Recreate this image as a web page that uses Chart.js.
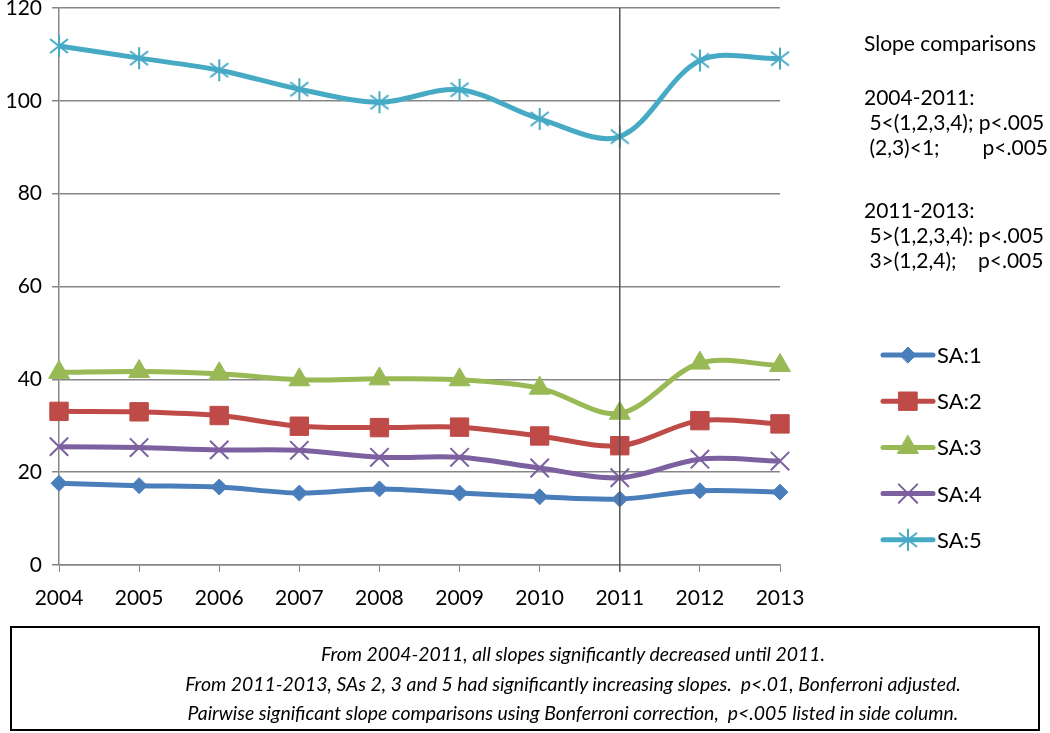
<!DOCTYPE html>
<html>
<head>
<meta charset="utf-8">
<script src="https://cdn.jsdelivr.net/npm/chart.js@4.4.0/dist/chart.umd.min.js"></script>
<style>
  body { margin: 0; background: #fff; overflow: hidden; }
  #wrap { position: relative; width: 1050px; height: 733px; overflow: hidden; }
  #chart { position: absolute; left: 0; top: -7px; }
  .note { position: absolute; left: 864px; font: 21px Lato, sans-serif; line-height: 25px; white-space: pre; color: #000; }
  #box { position: absolute; left: 10px; top: 626px; width: 1030px; height: 105px; border: 2px solid #000;
         font: italic 19.4px Lato, sans-serif; text-align: center; line-height: 29.5px; padding: 11px 0 0 96px; box-sizing: border-box; color: #000; }
</style>
</head>
<body>
<div id="wrap">
  <canvas id="chart" width="1050" height="740"></canvas>
  <div class="note" style="top:30px">Slope comparisons</div>
  <div class="note" style="top:84px">2004-2011:
 5&lt;(1,2,3,4); p&lt;.005
 (2,3)&lt;1;        p&lt;.005</div>
  <div class="note" style="top:197px">2011-2013:
 5&gt;(1,2,3,4): p&lt;.005
 3&gt;(1,2,4);    p&lt;.005</div>
  <div id="box">From 2004-2011, all slopes significantly decreased until 2011.<br>From 2011-2013, SAs 2, 3 and 5 had significantly increasing slopes.&nbsp; p&lt;.01, Bonferroni adjusted.<br>Pairwise significant slope comparisons using Bonferroni correction,&nbsp; p&lt;.005 listed in side column.</div>
</div>
<script>
const years = ['2004', '2005', '2006', '2007', '2008', '2009', '2010', '2011', '2012', '2013'];
const sa1 = [17.6, 17.1, 16.8, 15.5, 16.4, 15.5, 14.7, 14.2, 16.0, 15.7];
const sa2 = [33.1, 33.0, 32.2, 29.9, 29.6, 29.7, 27.8, 25.7, 31.1, 30.4];
const sa3 = [41.5, 41.7, 41.2, 39.9, 40.1, 39.9, 38.1, 32.7, 43.5, 43.0];
const sa4 = [25.5, 25.3, 24.8, 24.7, 23.2, 23.2, 20.9, 18.8, 22.8, 22.4];
const sa5 = [111.8, 109.2, 106.6, 102.5, 99.7, 102.4, 96.1, 92.3, 108.7, 109.1];
const markYear = '2011';

// excel style asterisk marker
function asterisk(color) {
    let c = document.createElement('canvas');
    c.width = 24; c.height = 24;
    let g = c.getContext('2d');
    g.strokeStyle = color;
    g.lineWidth = 2;
    g.beginPath();
    g.moveTo(12, 1); g.lineTo(12, 23);
    g.moveTo(3, 5); g.lineTo(21, 19);
    g.moveTo(21, 5); g.lineTo(3, 19);
    g.stroke();
    return c;
}

function series(label, data, color, style, radius, filled) {
    return {
        label: label,
        data: data,
        borderColor: color,
        backgroundColor: filled ? color : 'rgba(0,0,0,0)',
        pointBackgroundColor: color,
        pointBorderColor: color,
        pointBorderWidth: filled ? 1 : 2,
        pointStyle: style,
        pointRadius: radius,
        borderWidth: 5,
        tension: 0.33,
        fill: false
    };
}

const vline = {
    id: 'vline',
    afterDatasetsDraw(chart) {
        let ctx = chart.ctx;
        let x = chart.scales.x.getPixelForValue(years.indexOf(markYear));
        ctx.save();
        ctx.strokeStyle = '#555';
        ctx.lineWidth = 1.5;
        ctx.beginPath();
        ctx.moveTo(x, chart.chartArea.top);
        ctx.lineTo(x, chart.chartArea.bottom + 7);
        ctx.stroke();
        ctx.restore();
    }
};

// canvas sits 7px above the page, so legend rows are shifted by that
const sideLegend = {
    id: 'sideLegend',
    afterDraw(chart) {
        let ctx = chart.ctx;
        ctx.save();
        chart.data.datasets.forEach((ds, i) => {
            let y = 362 + i * 46.2;
            ctx.strokeStyle = ds.borderColor;
            ctx.lineWidth = 5;
            ctx.lineCap = 'round';
            ctx.beginPath();
            ctx.moveTo(883, y);
            ctx.lineTo(933, y);
            ctx.stroke();
            ctx.fillStyle = ds.pointBackgroundColor;
            ctx.strokeStyle = ds.pointBorderColor;
            ctx.lineWidth = ds.pointBorderWidth;
            Chart.helpers.drawPoint(ctx, {pointStyle: ds.pointStyle, radius: ds.pointRadius, borderWidth: ds.pointBorderWidth}, 908, y);
            ctx.fillStyle = '#000';
            ctx.font = '22px Lato, sans-serif';
            ctx.textBaseline = 'middle';
            ctx.fillText(ds.label, 937, y + 1);
        });
        ctx.restore();
    }
};

let ctx = document.getElementById('chart');

let chart = new Chart(ctx, {
    type: 'line',
    data: {
        labels: years,
        datasets: [
            series('SA:1', sa1, '#4a7ebb', 'rectRot', 8, true),
            series('SA:2', sa2, '#be4b48', 'rect', 13, true),
            series('SA:3', sa3, '#98b954', 'triangle', 12, true),
            series('SA:4', sa4, '#7d60a0', 'crossRot', 13, false),
            series('SA:5', sa5, '#46aac5', asterisk('#46aac5'), 12, false)
        ]
    },
    options: {
        responsive: false,
        animation: false,
        layout: { padding: { top: 2, right: 270, bottom: 118, left: 0 } },
        scales: {
            x: {
                offset: false,
                afterFit(scale) { scale.height = 50; },
                grid: { drawOnChartArea: false, drawTicks: true, tickLength: 7, color: '#868686' },
                border: { color: '#868686', width: 1.5 },
                ticks: { color: '#000', font: { family: 'Lato', size: 21 }, padding: 14, maxRotation: 0 }
            },
            y: {
                min: 0,
                max: 120,
                afterFit(scale) { scale.width = 59; scale.paddingTop = 0; scale.paddingBottom = 0; },
                grid: { color: '#868686', lineWidth: 1.5, tickLength: 7 },
                border: { color: '#868686', width: 1.5 },
                ticks: { stepSize: 20, color: '#000', font: { family: 'Lato', size: 21 }, padding: 10 }
            }
        },
        plugins: {
            legend: { display: false },
            tooltip: { enabled: false }
        }
    },
    plugins: [vline, sideLegend]
});
</script>
</body>
</html>
